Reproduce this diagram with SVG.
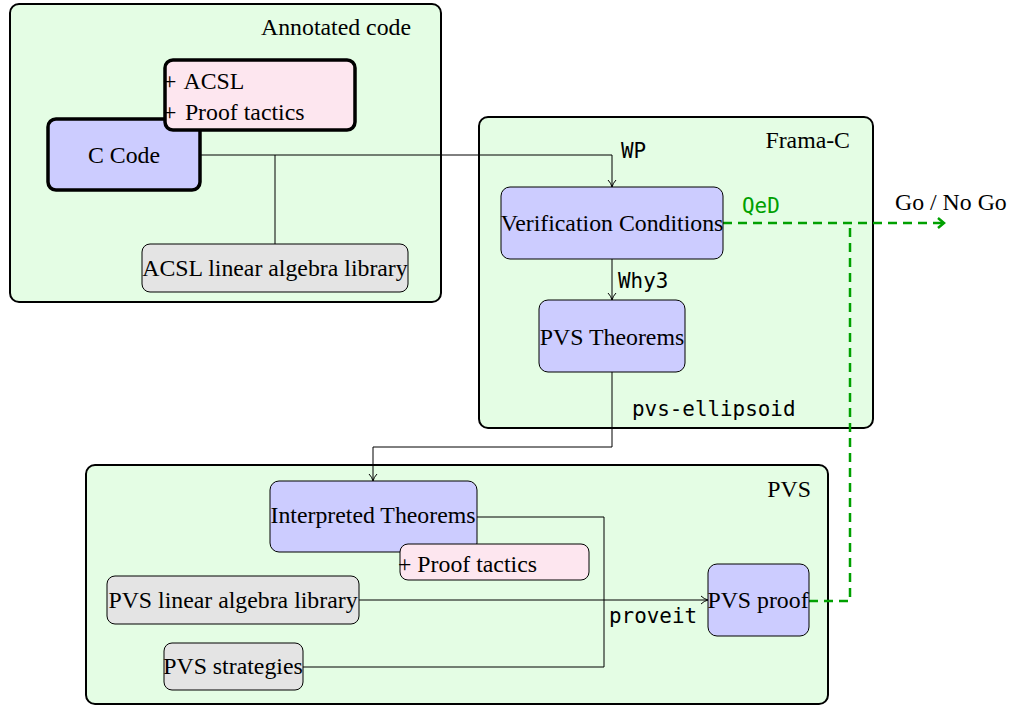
<svg xmlns="http://www.w3.org/2000/svg" width="1011" height="706" viewBox="0 0 1011 706">
<defs>
<style>
.cont{fill:#e4fde4;stroke:#000;stroke-width:2}
.blue{fill:#ccccff;stroke:#000;stroke-width:1}
.blueT{fill:#ccccff;stroke:#000;stroke-width:3.5}
.pink{fill:#fde6ef;stroke:#000;stroke-width:1}
.pinkT{fill:#fde6ef;stroke:#000;stroke-width:3.5}
.gray{fill:#e4e4e4;stroke:#000;stroke-width:1}
.t{font-family:"Liberation Serif","Times New Roman",serif;font-size:23.8px;fill:#000}
.m{font-family:"DejaVu Sans Mono","Liberation Mono",monospace;font-size:20.9px;fill:#000}
.c{text-anchor:middle}
.e{text-anchor:end}
.ln{fill:none;stroke:#000;stroke-width:1}
.gd{fill:none;stroke:#00a000;stroke-width:2.5;stroke-dasharray:9 6}
</style>
<marker id="ah" viewBox="0 0 10 10" refX="9" refY="5" markerWidth="10" markerHeight="10" markerUnits="userSpaceOnUse" orient="auto">
<path d="M2,1 Q5,4 9,5 Q5,6 2,9" fill="none" stroke="#000" stroke-width="1"/>
</marker>
<marker id="gh" viewBox="0 0 12 12" refX="10" refY="6" markerWidth="12" markerHeight="12" markerUnits="userSpaceOnUse" orient="auto">
<path d="M4,1 L10,6 L4,11" fill="none" stroke="#00a000" stroke-width="2.5"/>
</marker>
</defs>
<rect width="1011" height="706" fill="#fff"/>

<g id="annotated-code">
<rect class="cont" x="10" y="4" width="431" height="298" rx="9"/>
<text class="t e" x="411" y="35">Annotated code</text>
</g>
<g id="frama-c">
<rect class="cont" x="479" y="117" width="394" height="311" rx="9"/>
<text class="t e" x="850" y="148">Frama-C</text>
</g>
<g id="pvs">
<rect class="cont" x="86" y="465" width="742" height="239" rx="9"/>
<text class="t e" x="811" y="497">PVS</text>
</g>

<g id="connectors">
<path class="ln" d="M200,155 H612 V187" marker-end="url(#ah)"/>
<path class="ln" d="M275,155 V244"/>
<path class="ln" d="M612,259 V300" marker-end="url(#ah)"/>
<path class="ln" d="M612,372 V447 H373 V481" marker-end="url(#ah)"/>
<path class="ln" d="M477,517 H604 V667 H303"/>
<path class="ln" d="M359,600 H708" marker-end="url(#ah)"/>
<path class="gd" d="M723,223 H944" marker-end="url(#gh)"/>
<path class="gd" d="M809,601 H850 V223"/>
<text class="m" x="621" y="158">WP</text>
<text class="m" x="618" y="288">Why3</text>
<text class="m" x="632" y="416">pvs-ellipsoid</text>
<text class="m" x="609" y="623">proveit</text>
<text class="m" x="742" y="213" style="fill:#00a000">QeD</text>
<text class="t" x="895" y="210">Go / No Go</text>
</g>

<g id="c-code">
<rect class="blueT" x="48" y="119" width="152" height="71" rx="8"/>
<text class="t c" x="124" y="163">C Code</text>
</g>
<g id="acsl-tactics">
<rect class="pinkT" x="165" y="60" width="190" height="70" rx="8"/>
<text class="t" x="163" y="89">+ <tspan dx="2.5">ACSL</tspan></text>
<text class="t" x="163" y="120">+ <tspan dx="2.5">Proof tactics</tspan></text>
</g>
<g id="acsl-lib">
<rect class="gray" x="142" y="244" width="266" height="48" rx="8"/>
<text class="t c" x="275" y="276">ACSL linear algebra library</text>
</g>
<g id="vc">
<rect class="blue" x="501" y="187" width="222" height="72" rx="9"/>
<text class="t c" x="612" y="231">Verification Conditions</text>
</g>
<g id="pvs-theorems">
<rect class="blue" x="539" y="300" width="146" height="72" rx="9"/>
<text class="t c" x="612" y="345">PVS Theorems</text>
</g>
<g id="interpreted">
<rect class="blue" x="270" y="481" width="207" height="71" rx="9"/>
<text class="t c" x="373" y="523">Interpreted Theorems</text>
</g>
<g id="proof-tactics">
<rect class="pink" x="400" y="544" width="189" height="36" rx="8"/>
<text class="t" x="398" y="572">+ Proof tactics</text>
</g>
<g id="pvs-lib">
<rect class="gray" x="107" y="576" width="252" height="48" rx="8"/>
<text class="t c" x="233" y="608">PVS linear algebra library</text>
</g>
<g id="pvs-strategies">
<rect class="gray" x="164" y="643" width="139" height="47" rx="8"/>
<text class="t c" x="233" y="674">PVS strategies</text>
</g>
<g id="pvs-proof">
<rect class="blue" x="708" y="564" width="101" height="72" rx="9"/>
<text class="t c" x="758" y="608">PVS proof</text>
</g>
</svg>
